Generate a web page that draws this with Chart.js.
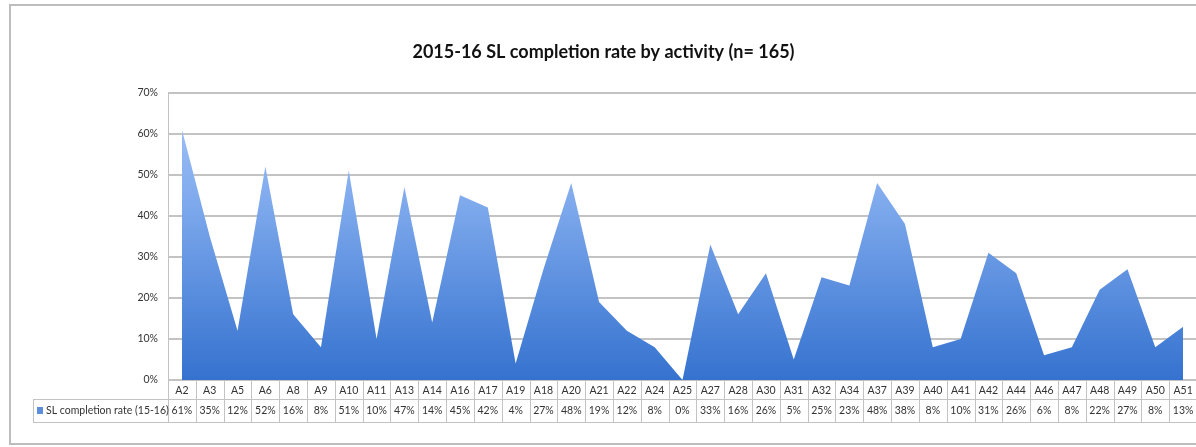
<!DOCTYPE html>
<html>
<head>
<meta charset="utf-8">
<script src="https://cdn.jsdelivr.net/npm/chart.js@4/dist/chart.umd.min.js"></script>
<style>
  html, body { margin: 0; padding: 0; background: #fff; overflow: hidden; }
  #wrap { width: 1215px; height: 447px; }
</style>
</head>
<body>
<div id="wrap"><canvas id="areaChart" width="1215" height="447"></canvas></div>
<script>
// SL completion rate by activity
const activities = ['A2','A3','A5','A6','A8','A9','A10','A11','A13','A14','A16','A17','A19','A18','A20','A21','A22','A24','A25',
  'A27','A28','A30','A31','A32','A34','A37','A39','A40','A41','A42','A44','A46','A47','A48','A49','A50','A51'];
const completionRate = [61,35,12,52,16,8,51,10,47,14,45,42,4,27,48,19,12,8,0,
  33,16,26,5,25,23,48,38,8,10,31,26,6,8,22,27,8,13];
const seriesName = 'SL completion rate (15-16)';
const yTicks = [0,10,20,30,40,50,60,70];

const FONT = 'Lato, "Liberation Sans", sans-serif';
const GRID = '#c3c3c3';

// draws the outer frame and the data table row under the axis
const dataTable = {
  id: 'dataTable',
  afterDraw(chart) {
    const c = chart.ctx;
    const x = chart.scales.x;
    const a = chart.chartArea;
    const half = (x.getPixelForValue(1) - x.getPixelForValue(0)) / 2;
    const row1 = a.bottom, row2 = a.bottom + 19, row3 = row2 + 23;
    c.save();
    // outer frame
    c.strokeStyle = '#bdbdbd';
    c.lineWidth = 2;
    c.strokeRect(10, 5, 1200, 439);

    c.strokeStyle = GRID;
    c.lineWidth = 1;
    c.beginPath();
    c.moveTo(a.left, row1 + 0.5); c.lineTo(a.right, row1 + 0.5);
    c.moveTo(33, row2 + 0.5); c.lineTo(a.right, row2 + 0.5);
    c.moveTo(33, row3 + 0.5); c.lineTo(a.right, row3 + 0.5);
    c.moveTo(33.5, row2); c.lineTo(33.5, row3);
    c.moveTo(a.left + 0.5, row1); c.lineTo(a.left + 0.5, row3);
    activities.forEach((lab, i) => {
      const px = Math.round(x.getPixelForValue(i) + half) + 0.5;
      c.moveTo(px, row1); c.lineTo(px, row3);
    });
    c.stroke();

    // series key and name
    c.fillStyle = '#5b8fdc';
    c.fillRect(37, row2 + 8, 6, 7);
    c.font = '10.5px ' + FONT;
    c.fillStyle = '#333';
    c.textBaseline = 'middle';
    c.textAlign = 'left';
    c.fillText(seriesName, 46, row2 + 12);
    c.textAlign = 'center';
    completionRate.forEach((v, i) => {
      c.fillText(v + '%', x.getPixelForValue(i), row2 + 12);
    });
    c.restore();
  }
};

const ctx = document.getElementById('areaChart').getContext('2d');
const areaChart = new Chart(ctx, {
  type: 'line',
  data: {
    labels: activities,
    datasets: [{
      label: seriesName,
      data: completionRate,
      fill: 'origin',
      borderWidth: 0,
      pointRadius: 0,
      tension: 0,
      backgroundColor(c) {
        const a = c.chart.chartArea;
        if (!a) return '#5b8fdc';
        const g = c.chart.ctx.createLinearGradient(0, a.top, 0, a.bottom);
        g.addColorStop(0, '#a8c8f8');
        g.addColorStop(0.35, '#82acee');
        g.addColorStop(1, '#3572cf');
        return g;
      }
    }]
  },
  options: {
    responsive: false,
    animation: false,
    layout: { padding: { left: 10, right: 18, top: 0, bottom: 48 } },
    plugins: {
      legend: { display: false },
      tooltip: { enabled: false },
      title: {
        display: true,
        text: '2015-16 SL completion rate by activity (n= 165)',
        color: '#111',
        font: { family: FONT, size: 18, weight: 'bold', lineHeight: 1.2 },
        padding: { top: 41, bottom: 30 }
      }
    },
    scales: {
      x: {
        offset: true,
        grid: { display: false, drawTicks: false },
        border: { display: false },
        ticks: { color: '#333', font: { family: FONT, size: 10.5 }, padding: 4, maxRotation: 0, autoSkip: false },
        afterFit(s) { s.height = 19; }
      },
      y: {
        min: 0,
        max: 70,
        afterBuildTicks(s) { s.ticks = yTicks.map(v => ({ value: v })); },
        grid: { color: GRID, lineWidth: 2, drawTicks: false },
        border: { display: true, color: GRID, width: 1 },
        ticks: {
          color: '#333',
          padding: 10,
          font: { family: FONT, size: 10.5 },
          callback: v => v + '%'
        },
        afterFit(s) { s.width = 158; }
      }
    }
  },
  plugins: [dataTable]
});
</script>
</body>
</html>
